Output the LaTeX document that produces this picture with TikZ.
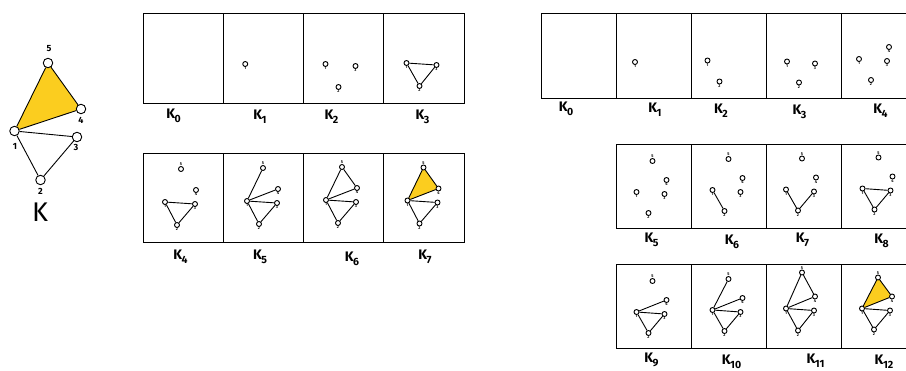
\documentclass[tikz,border=0pt]{standalone}
\usepackage{fontspec}
\setmainfont{Fira Sans}
\usepackage{tikz}
\usetikzlibrary{backgrounds}
\definecolor{kyellow}{HTML}{FBCD1F}

% subscripted name of a subcomplex
\newcommand{\kname}[1]{K\kern-0.4pt\raisebox{-4.3pt}{\fontsize{10.5}{10.5}\selectfont #1}}
% first #2 vertices of a geometry list, names #1v1, #1v2, ...
\newcommand{\verts}[3]{%
  \foreach \i/\x/\y in #3 {%
    \ifnum\i>#2\relax\else
      \node[vtx] (#1v\i) at (\x,\y) {};
      \ifnum\i=5 \node[vlab, anchor=south] (#1l\i) at (#1v\i.north) {\i};
      \else \node[vlab, anchor=north] (#1l\i) at (#1v\i.south) {\i};\fi
    \fi}}
% vertex positions inside a panel
\def\gAT{1/22/51,2/35/74,3/52/53}
\def\gAB{1/23/48,2/35/71,3/53/50,4/54/36,5/39/15}
\def\gB{1/21/46,2/33/67,3/49/48,4/51/34,5/37/15}
\def\gBk{1/21/45,2/33/67,3/49/47,4/50/33,5/37/9}

\begin{document}
\begin{tikzpicture}[
  x=1pt, y=-1pt,
  box/.style={draw, line width=1pt, anchor=north west, inner sep=0pt, outer sep=0pt},
  lbox/.style={box, minimum width=80.25pt, minimum height=#1},
  rbox/.style={box, minimum width=75pt, minimum height=#1},
  vtx/.style={circle, draw, fill=white, line width=0.9pt, inner sep=0pt, minimum size=5pt},
  bigv/.style={circle, draw, fill=white, line width=0.9pt, inner sep=0pt, minimum size=9.5pt},
  vlab/.style={inner sep=0pt, font=\fontsize{4}{4}\selectfont\bfseries},
  blab/.style={inner sep=0pt, font=\fontsize{9}{9}\selectfont\bfseries},
  klab/.style={inner sep=0pt, font=\fontsize{13.8}{13.8}\selectfont\bfseries},
  edge/.style={line width=0.9pt},
]
\useasboundingbox (0,0) rectangle (906,370);

% the complex K
\node[bigv] (k5) at (48,63) {};
\node[bigv] (k4) at (81,109) {};
\node[bigv] (k1) at (14.5,131) {};
\node[bigv] (k3) at (77,137) {};
\node[bigv] (k2) at (40.5,180) {};
\begin{scope}[on background layer]
  \fill[kyellow] (k1.center) -- (k4.center) -- (k5.center) -- cycle;
\end{scope}
\draw[edge] (k1) -- (k5) -- (k4) -- (k1) -- (k3) -- (k2) -- (k1);
\node[blab] (kl5) at (49,49) {5};
\node[blab] (kl4) at (81,120.5) {4};
\node[blab] (kl1) at (15,146) {1};
\node[blab] (kl3) at (76,147.5) {3};
\node[blab] (kl2) at (40.5,191) {2};
\node[inner sep=0pt, font=\fontsize{27}{27}\selectfont] (kK) at (40,212) {K};

% first filtration: boxes
\foreach \n/\x in {0/143,1/223.25,2/303.5,3/383.75}
  \node[lbox=90pt] (A\n) at (\x,13) {};
\foreach \n/\x in {4/143,5/223.25,6/303.5,7/383.75}
  \node[lbox=89pt] (A\n) at (\x,153) {};
\node[klab] (lA0) at (173.5,116) {\kname{0}};
\node[klab] (lA1) at (260,116.5) {\kname{1}};
\node[klab] (lA2) at (331.5,116.5) {\kname{2}};
\node[klab] (lA3) at (422.5,117) {\kname{3}};
\node[klab] (lA4) at (180.5,257) {\kname{4}};
\node[klab] (lA5) at (260,257) {\kname{5}};
\node[klab] (lA6) at (352,259) {\kname{6}};
\node[klab] (lA7) at (425,257) {\kname{7}};

\begin{scope}[shift={(223.25,13)}]
  \verts{a1}{1}{\gAT}
\end{scope}
\begin{scope}[shift={(303.5,13)}]
  \verts{a2}{3}{\gAT}
\end{scope}
\begin{scope}[shift={(384.5,12)}]
  \verts{a3}{3}{\gAT}
  \draw[edge] (a3v1) -- (a3v2) -- (a3v3) -- (a3v1);
\end{scope}
\begin{scope}[shift={(142,154)}]
  \verts{a4}{5}{\gAB}
  \draw[edge] (a4v1) -- (a4v2) -- (a4v3) -- (a4v1);
\end{scope}
\begin{scope}[shift={(224,153)}]
  \verts{a5}{5}{\gAB}
  \draw[edge] (a5v1) -- (a5v2) -- (a5v3) -- (a5v1);
  \draw[edge] (a5v1) -- (a5v5) (a5v1) -- (a5v4);
\end{scope}
\begin{scope}[shift={(303,152)}]
  \verts{a6}{5}{\gAB}
  \draw[edge] (a6v1) -- (a6v2) -- (a6v3) -- (a6v1);
  \draw[edge] (a6v1) -- (a6v5) -- (a6v4) -- (a6v1);
\end{scope}
\begin{scope}[shift={(384.5,152.5)}]
  \verts{a7}{5}{\gAB}
  \begin{scope}[on background layer]
    \fill[kyellow] (a7v1.center) -- (a7v4.center) -- (a7v5.center) -- cycle;
  \end{scope}
  \draw[edge] (a7v1) -- (a7v2) -- (a7v3) -- (a7v1);
  \draw[edge] (a7v1) -- (a7v5) -- (a7v4) -- (a7v1);
\end{scope}

% second filtration: boxes
\foreach \n/\x in {0/541,1/616,2/691,3/766,4/841}
  \node[rbox=85pt] (B\n) at (\x,13) {};
\foreach \n/\x in {5/616,6/691,7/766,8/841}
  \node[rbox=84pt] (B\n) at (\x,144) {};
\foreach \n/\x in {9/616,10/691,11/766,12/841}
  \node[rbox=84pt] (B\n) at (\x,264) {};
\node[klab] (lB0) at (566,108.5) {\kname{0}};
\node[klab] (lB1) at (655,109.5) {\kname{1}};
\node[klab] (lB2) at (721,111) {\kname{2}};
\node[klab] (lB3) at (799.5,112) {\kname{3}};
\node[klab] (lB4) at (880.5,111) {\kname{4}};
\node[klab] (lB5) at (651.5,240) {\kname{5}};
\node[klab] (lB6) at (732,242) {\kname{6}};
\node[klab] (lB7) at (802.5,240) {\kname{7}};
\node[klab] (lB8) at (881.5,241) {\kname{8}};
\node[klab] (lB9) at (651.5,360) {\kname{9}};
\node[klab] (lB10) at (731.5,361.5) {\kname{10}};
\node[klab] (lB11) at (815.5,360.5) {\kname{11}};
\node[klab] (lB12) at (884,361.5) {\kname{12}};

\begin{scope}[shift={(614,16)}]
  \verts{b1}{1}{\gB}
\end{scope}
\begin{scope}[shift={(686.5,14.5)}]
  \verts{b2}{2}{\gB}
\end{scope}
\begin{scope}[shift={(766,15.5)}]
  \verts{b3}{3}{\gB}
\end{scope}
\begin{scope}[shift={(838,13)}]
  \verts{b4}{4}{\gB}
\end{scope}
\begin{scope}[shift={(615.5,146)}]
  \verts{b5}{5}{\gB}
\end{scope}
\begin{scope}[shift={(691.5,144)}]
  \verts{b6}{5}{\gB}
  \draw[edge] (b6v1) -- (b6v2);
\end{scope}
\begin{scope}[shift={(765,143.5)}]
  \verts{b7}{5}{\gB}
  \draw[edge] (b7v1) -- (b7v2) -- (b7v3);
\end{scope}
\begin{scope}[shift={(841.5,142.5)}]
  \verts{b8}{5}{\gB}
  \draw[edge] (b8v1) -- (b8v2) -- (b8v3) -- (b8v1);
\end{scope}
\begin{scope}[shift={(615.5,266)}]
  \verts{b9}{5}{\gB}
  \draw[edge] (b9v1) -- (b9v2) -- (b9v3) -- (b9v1);
  \draw[edge] (b9v1) -- (b9v4);
\end{scope}
\begin{scope}[shift={(691.5,264)}]
  \verts{b10}{5}{\gB}
  \draw[edge] (b10v1) -- (b10v2) -- (b10v3) -- (b10v1);
  \draw[edge] (b10v1) -- (b10v4) (b10v1) -- (b10v5);
\end{scope}
\begin{scope}[shift={(765,263.5)}]
  \verts{b11}{5}{\gBk}
  \draw[edge] (b11v1) -- (b11v2) -- (b11v3) -- (b11v1);
  \draw[edge] (b11v1) -- (b11v5) -- (b11v4) -- (b11v1);
\end{scope}
\begin{scope}[shift={(841,262.5)}]
  \verts{b12}{5}{\gB}
  \begin{scope}[on background layer]
    \fill[kyellow] (b12v1.center) -- (b12v4.center) -- (b12v5.center) -- cycle;
  \end{scope}
  \draw[edge] (b12v1) -- (b12v2) -- (b12v3) -- (b12v1);
  \draw[edge] (b12v1) -- (b12v5) -- (b12v4) -- (b12v1);
\end{scope}
\end{tikzpicture}
\end{document}
